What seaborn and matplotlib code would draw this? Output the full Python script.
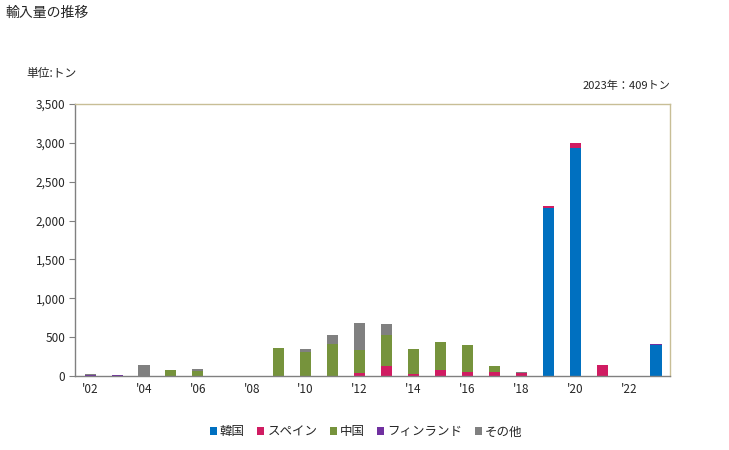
import matplotlib
matplotlib.use("Agg")
import matplotlib.pyplot as plt
from matplotlib.patches import Patch
import seaborn as sns
import pandas as pd

years = list(range(2002, 2024))
korea   = [0, 0, 0, 0, 0, 0, 0, 0, 0, 0, 0, 0, 0, 0, 0, 0, 0, 2160, 2930, 0, 0, 397]
spain   = [0, 0, 0, 0, 0, 0, 0, 0, 0, 0, 40, 130, 30, 80, 55, 55, 40, 30, 70, 140, 0, 0]
china   = [0, 0, 0, 75, 65, 0, 0, 360, 310, 415, 300, 395, 315, 355, 340, 75, 0, 0, 0, 0, 0, 0]
finland = [12, 15, 0, 0, 0, 0, 0, 0, 0, 0, 0, 0, 0, 0, 0, 0, 0, 0, 0, 0, 0, 12]
other   = [13, 0, 140, 0, 25, 0, 0, 0, 35, 115, 340, 140, 0, 0, 0, 0, 15, 0, 0, 0, 0, 0]

series_names = ["韓国", "スペイン", "中国", "フィンランド", "その他"]
series_colors = ["#0070C0", "#D01C62", "#76933C", "#7030A0", "#808080"]
xtick_years = list(range(2002, 2024, 2))
xtick_labels = ["'02", "'04", "'06", "'08", "'10", "'12", "'14", "'16", "'18", "'20", "'22"]
yticks = [0, 500, 1000, 1500, 2000, 2500, 3000, 3500]

rows = []
for name, vals in zip(series_names, [korea, spain, china, finland, other]):
    for y, v in zip(years, vals):
        rows.append({"year": y, "value": v, "country": name})
df = pd.DataFrame(rows)

sns.set_style("white")
plt.rcParams["font.family"] = ["Noto Sans CJK JP", "DejaVu Sans"]

fig = plt.figure(figsize=(7.29, 4.5), dpi=100)
ax = fig.add_axes([75 / 729, 1 - 376 / 450, (670 - 75) / 729, (376 - 104) / 450])

palette = dict(zip(series_names, series_colors))
sns.histplot(data=df, x="year", weights="value", hue="country",
             hue_order=series_names[::-1], multiple="stack", discrete=True,
             shrink=0.41, palette=palette, alpha=1, linewidth=0, legend=False, ax=ax)

ax.set_xlim(2001.44, 2023.52)
ax.set_ylim(0, 3500)
ax.set_yticks(yticks)
ax.set_yticklabels([f"{v:,}" for v in yticks], fontsize=8.5)
ax.set_xticks(xtick_years)
ax.set_xticklabels(xtick_labels, fontsize=8.5)
ax.set_xlabel("")
ax.set_ylabel("")
ax.tick_params(axis="y", length=4, width=0.8, color="#808080", pad=3, direction="out", left=True)
ax.tick_params(axis="x", length=0, pad=5)
for s in ["left", "bottom"]:
    ax.spines[s].set_color("#808080")
    ax.spines[s].set_linewidth(1.0)
for s in ["top", "right"]:
    ax.spines[s].set_color("#C8BE96")
    ax.spines[s].set_linewidth(1.0)
    ax.spines[s].set_visible(True)
ax.grid(False)

fig.text(5 / 729, 1 - 13 / 450, "輸入量の推移", fontsize=10, va="center", ha="left")
fig.text(26 / 729, 1 - 74 / 450, "単位:トン", fontsize=8.5, va="center", ha="left")
fig.text(670 / 729, 1 - 86 / 450, "2023年：409トン", fontsize=8, va="center", ha="right")

handles = [Patch(facecolor=c, edgecolor="none") for c in series_colors]
fig.legend(handles, series_names, loc="center", bbox_to_anchor=(366 / 729, 1 - 432 / 450),
           ncol=5, frameon=False, fontsize=9, handlelength=0.55, handleheight=0.55,
           handletextpad=0.25, columnspacing=1.0)

fig.savefig("out.png", dpi=100)
